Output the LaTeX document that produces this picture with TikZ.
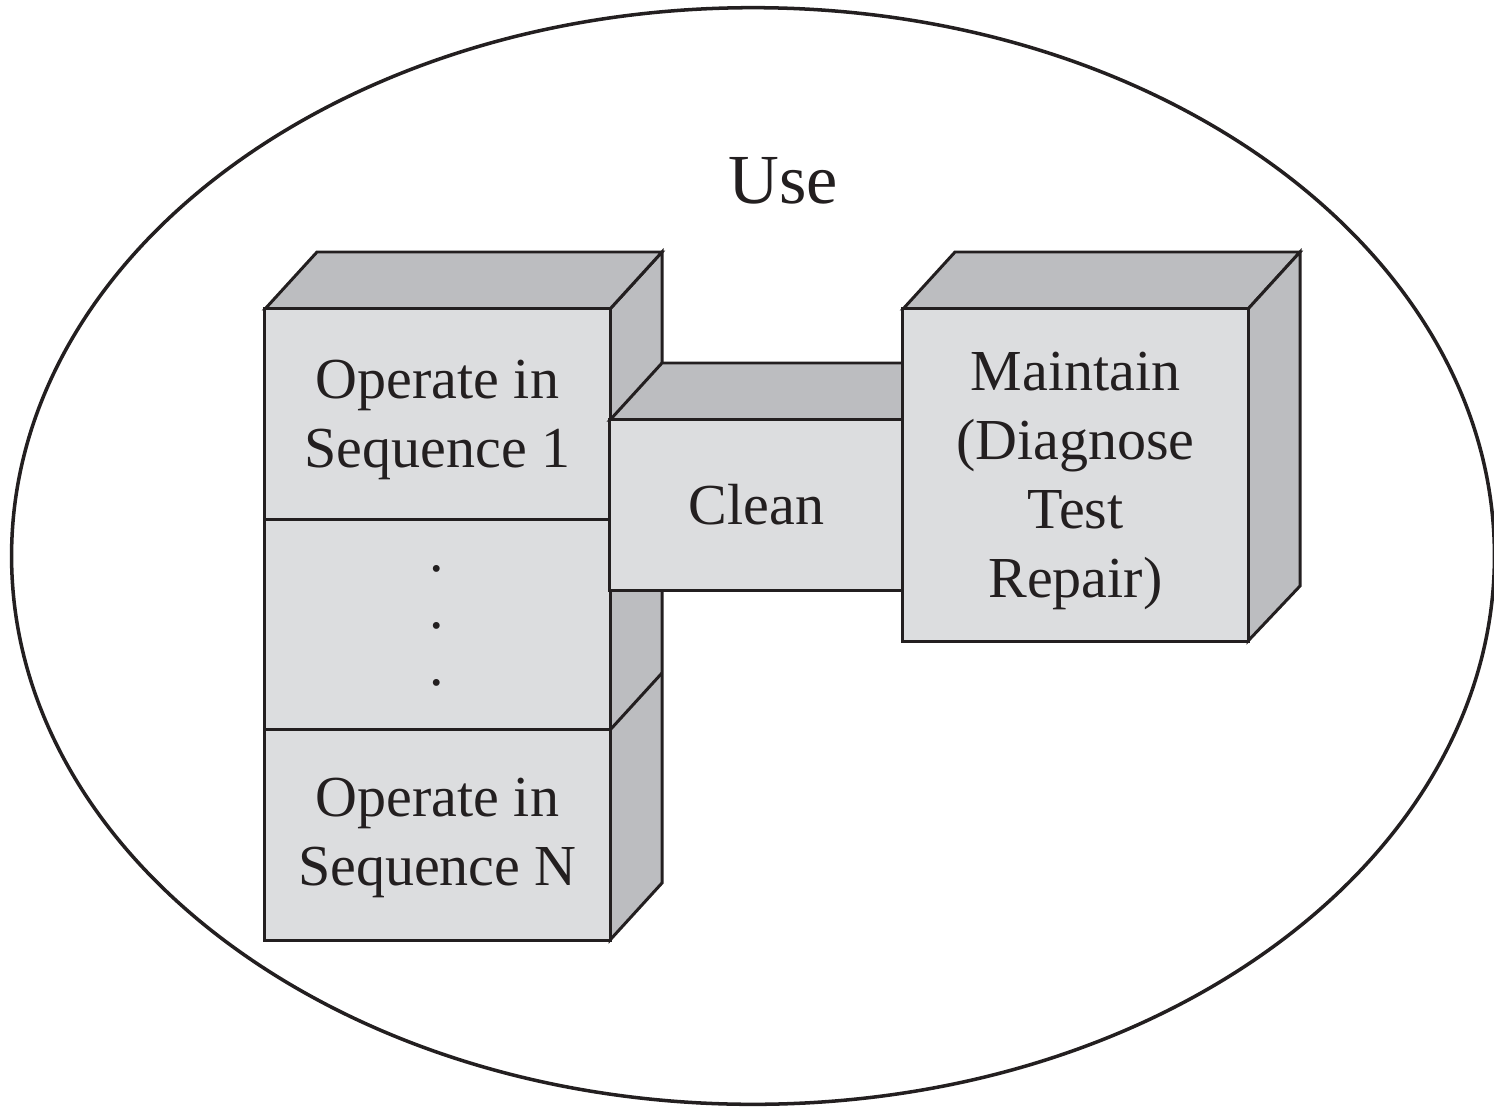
\documentclass[tikz,border=0pt]{standalone}
\usepackage{fontspec}
\setmainfont{Liberation Serif}
\definecolor{facefront}{HTML}{DCDDDF}
\definecolor{faceside}{HTML}{BCBDC0}
\definecolor{ink}{HTML}{231F20}
\begin{document}
\begin{tikzpicture}[x=0.01cm,y=-0.01cm,line join=miter,
  edge/.style={draw=ink,line width=0.85pt},
  front/.style={edge,fill=facefront,rectangle,inner sep=0pt,outer sep=0pt},
  lbl/.style={text=ink,inner sep=0pt,font=\fontsize{16.5}{19.6}\selectfont,align=center},
  shadeface/.style={edge,fill=faceside}]
\useasboundingbox (0,0) rectangle (1494,1106);
% outer ellipse
\draw[edge,line width=1pt] (753,556) ellipse [x radius=7.41cm,y radius=5.48cm];
\node[text=ink,font=\fontsize{20}{24}\selectfont,anchor=base] (use) at (783,203) {Use};
% left stack: side and top faces
\filldraw[shadeface] (610,309) -- (662,252) -- (662,883) -- (610,940) -- cycle;
\draw[edge] (610,730) -- (662,673);
\filldraw[shadeface] (265,309) -- (317,252) -- (662,252) -- (610,309) -- cycle;
% left stack: front faces
\node[front,minimum width=3.45cm,minimum height=2.11cm] (s1) at (437.5,414.5) {};
\node[lbl] (s1text) at ([yshift=-1.5pt]s1.center) {Operate in\\Sequence 1};
\node[front,minimum width=3.45cm,minimum height=2.10cm] (s2) at (437.5,625) {};
\node[lbl,font=\fontsize{16.5}{16.2}\selectfont] (dots) at (437,626) {.\\.\\.};
\node[front,minimum width=3.45cm,minimum height=2.10cm] (s3) at (437.5,835) {};
\node[lbl] (s3text) at ([yshift=-0.9pt]s3.center) {Operate in\\Sequence N};
% clean box
\filldraw[shadeface] (610,420) -- (662,363) -- (903,363) -- (903,420) -- cycle;
\node[front,minimum width=2.93cm,minimum height=1.70cm] (clean) at (756.5,505) {};
\node[lbl] (cleantext) at (clean.center) {Clean};
% maintain box
\filldraw[shadeface] (903,309) -- (955,252) -- (1300,252) -- (1248,309) -- cycle;
\filldraw[shadeface] (1248,309) -- (1300,252) -- (1300,586) -- (1248,641) -- cycle;
\node[front,minimum width=3.45cm,minimum height=3.32cm] (maint) at (1075.5,475) {};
\node[lbl] (mainttext) at ([yshift=-1.8pt]maint.center) {Maintain\\(Diagnose\\Test\\Repair)};
\end{tikzpicture}
\end{document}
